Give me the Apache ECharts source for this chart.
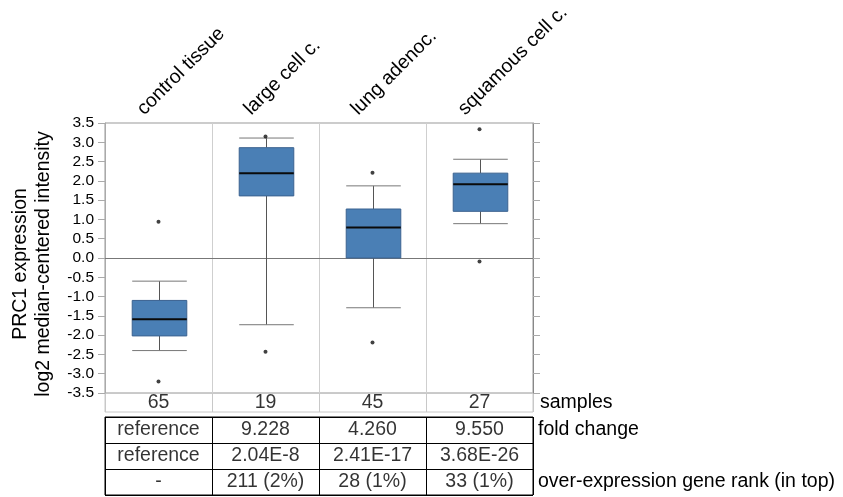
<!DOCTYPE html>
<html><head><meta charset="utf-8">
<script src="https://cdn.jsdelivr.net/npm/echarts@6/dist/echarts.min.js"></script>
<style>html,body{margin:0;padding:0;background:#fff}#c{width:843px;height:497px}</style>
</head><body><div id="c"></div>
<script>
const categories = ['control tissue', 'large cell c.', 'lung adenoc.', 'squamous cell c.'];
const whiskerLow = [-2.40, -1.73, -1.29, 0.89];
const q1 = [-2.02, 1.61, 0.00, 1.21];
const median = [-1.59, 2.20, 0.79, 1.91];
const q3 = [-1.10, 2.86, 1.27, 2.20];
const whiskerHigh = [-0.60, 3.11, 1.87, 2.56];
const outliers = [[0, 0.94], [0, -3.20], [1, 3.15], [1, -2.43], [2, 2.21], [2, -2.19], [3, 3.34], [3, -0.09]];
const samples = ['65', '19', '45', '27'];
const foldChange = ['reference', '9.228', '4.260', '9.550'];
const pValue = ['reference', '2.04E-8', '2.41E-17', '3.68E-26'];
const geneRank = ['-', '211 (2%)', '28 (1%)', '33 (1%)'];
const rowNames = ['fold change', 'p-value', 'over-expression gene rank (in top)'];
const sampleRow = ['samples'];
const yTitle = 'PRC1 expression\nlog2 median-centered intensity';

const FONT = '"Liberation Sans", Arial, sans-serif';
const FS = 19.5;
const tableRows = [foldChange, pValue, geneRank];

const chart = echarts.init(document.getElementById('c'), null, {renderer: 'canvas'});

const cellLabel = () => ({
  show: true, position: 'inside', color: '#000', fontSize: FS, fontFamily: FONT
});

const tableData = [];
tableRows.forEach((row, r) => row.forEach((txt, c) => tableData.push({value: [c, r], txt: txt})));
const sampleData = samples.map((s, c) => ({value: [c, 0], txt: s}));

const option = {
  animation: false,
  textStyle: {fontFamily: FONT},
  grid: [
    {left: 105, top: 123, width: 428, height: 270, show: true, borderColor: '#999', borderWidth: 1, backgroundColor: 'transparent'},
    {left: 87, top: 123, width: 428, height: 270},
    {left: 105, top: 393, width: 428, height: 19, show: true, borderColor: '#c8c8c8', borderWidth: 1},
    {left: 105, top: 417, width: 428, height: 78, show: true, borderColor: '#000', borderWidth: 1}
  ],
  xAxis: [
    {gridIndex: 0, type: 'category', data: categories, boundaryGap: true,
      axisLabel: {show: false}, axisTick: {show: false},
      axisLine: {show: true, onZero: true, lineStyle: {color: '#777', width: 1}},
      splitLine: {show: true, interval: 0, lineStyle: {color: '#cfcfcf', width: 1}}},
    {gridIndex: 1, type: 'category', data: categories, position: 'top', boundaryGap: true,
      axisLine: {show: false}, axisTick: {show: false}, splitLine: {show: false},
      axisLabel: {show: true, interval: 0, rotate: 45, margin: 11, fontSize: FS, color: '#000', fontFamily: FONT}},
    {gridIndex: 2, type: 'category', data: categories, boundaryGap: true,
      axisLabel: {show: false}, axisTick: {show: false}, axisLine: {show: false},
      splitLine: {show: true, interval: 0, lineStyle: {color: '#c8c8c8', width: 1}}},
    {gridIndex: 3, type: 'category', data: categories, boundaryGap: true,
      axisLabel: {show: false}, axisTick: {show: false}, axisLine: {show: false},
      splitLine: {show: true, interval: 0, lineStyle: {color: '#000', width: 1}}}
  ],
  yAxis: [
    {gridIndex: 0, type: 'value', min: -3.5, max: 3.5, interval: 0.5, position: 'left',
      name: yTitle, nameLocation: 'middle', nameGap: 50,
      nameTextStyle: {fontSize: FS, lineHeight: 23, color: '#000', fontFamily: FONT, padding: [0, 12, 0, 0]},
      axisLine: {show: true, lineStyle: {color: '#aaa'}},
      axisTick: {show: true, length: 7, lineStyle: {color: '#aaa'}},
      axisLabel: {show: true, fontSize: 15.5, color: '#000', margin: 11, fontFamily: FONT,
        formatter: v => v.toFixed(1)},
      splitLine: {show: false}},
    {gridIndex: 0, type: 'value', min: -3.5, max: 3.5, interval: 0.5, position: 'right',
      axisLine: {show: true, lineStyle: {color: '#888'}},
      axisTick: {show: true, length: 7, lineStyle: {color: '#aaa'}},
      axisLabel: {show: false}, splitLine: {show: false}},
    {gridIndex: 1, type: 'value', show: false},
    {gridIndex: 2, type: 'category', data: sampleRow, position: 'right',
      axisLine: {show: false}, axisTick: {show: false}, splitLine: {show: false},
      axisLabel: {show: true, margin: 7, fontSize: FS, color: '#000', fontFamily: FONT}},
    {gridIndex: 3, type: 'category', data: rowNames, position: 'right', inverse: true,
      axisLine: {show: false}, axisTick: {show: false},
      splitLine: {show: true, interval: 0, lineStyle: {color: '#000', width: 1}},
      axisLabel: {show: true, margin: 5, fontSize: FS, color: '#000', fontFamily: FONT}}
  ],
  series: [
    {
      type: 'custom', xAxisIndex: 0, yAxisIndex: 0, z: 3,
      data: categories.map((c, i) => [i, whiskerLow[i], q1[i], median[i], q3[i], whiskerHigh[i]]),
      encode: {x: 0, y: [1, 2, 3, 4, 5]},
      renderItem: function (params, api) {
        const i = api.value(0);
        const lo = api.coord([i, api.value(1)]);
        const b1 = api.coord([i, api.value(2)]);
        const md = api.coord([i, api.value(3)]);
        const b3 = api.coord([i, api.value(4)]);
        const hi = api.coord([i, api.value(5)]);
        const bw = api.size([1, 0])[0] * 0.51;
        const x = Math.round(lo[0]) + 0.5;
        const L = x - bw / 2, R = x + bw / 2;
        const ws = {stroke: '#555', lineWidth: 1};
        const cs = {stroke: '#777', lineWidth: 1};
        return {type: 'group', children: [
          {type: 'line', shape: {x1: x, y1: hi[1], x2: x, y2: b3[1]}, style: ws},
          {type: 'line', shape: {x1: x, y1: b1[1], x2: x, y2: lo[1]}, style: ws},
          {type: 'line', shape: {x1: L, y1: hi[1], x2: R, y2: hi[1]}, style: cs},
          {type: 'line', shape: {x1: L, y1: lo[1], x2: R, y2: lo[1]}, style: cs},
          {type: 'rect', shape: {x: L, y: b3[1], width: bw, height: b1[1] - b3[1]},
            style: {fill: '#4a7fb5', stroke: '#3b6290', lineWidth: 1}},
          {type: 'line', shape: {x1: L, y1: md[1], x2: R, y2: md[1]}, style: {stroke: '#0a0a0a', lineWidth: 2}}
        ]};
      }
    },
    {
      type: 'scatter', xAxisIndex: 0, yAxisIndex: 0, z: 4,
      data: outliers, symbol: 'circle', symbolSize: 4,
      itemStyle: {color: '#111'}
    },
    {
      type: 'scatter', xAxisIndex: 2, yAxisIndex: 3, z: 4,
      data: sampleData, symbolSize: 1, itemStyle: {color: 'rgba(0,0,0,0)'},
      label: Object.assign(cellLabel(), {formatter: p => p.data.txt})
    },
    {
      type: 'scatter', xAxisIndex: 3, yAxisIndex: 4, z: 4,
      data: tableData, symbolSize: 1, itemStyle: {color: 'rgba(0,0,0,0)'},
      label: Object.assign(cellLabel(), {formatter: p => p.data.txt})
    }
  ]
};
chart.setOption(option);
</script>
</body></html>
